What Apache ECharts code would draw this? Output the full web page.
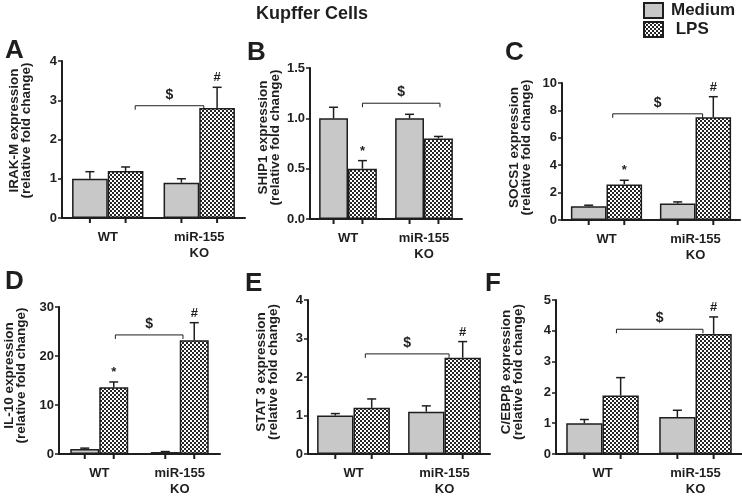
<!DOCTYPE html>
<html><head><meta charset="utf-8">
<script src="https://cdn.jsdelivr.net/npm/echarts@6/dist/echarts.min.js"></script>
<style>html,body{margin:0;padding:0;background:#fff}#c{width:742px;height:497px}</style>
</head><body><div id="c"></div>
<script>
// ---- data ----
const categories = ['WT', 'miR-155\nKO'];
const panelLetters = ['A', 'B', 'C', 'D', 'E', 'F'];
const yNames = ['IRAK-M expression', 'SHIP1 expression', 'SOCS1 expression', 'IL-10 expression', 'STAT 3 expression', 'C/EBPβ expression'];
const yMax = [4, 1.5, 10, 30, 4, 5];
const yStep = [1, 0.5, 2, 10, 1, 1];
const mediumValues = [[1.0, 0.9], [1.0, 1.0], [1.0, 1.2], [1.0, 0.4], [1.0, 1.1], [1.0, 1.2]];
const mediumErrTop = [[1.18, 1.0], [1.11, 1.04], [1.08, 1.32], [1.2, 0.5], [1.05, 1.25], [1.12, 1.42]];
const lpsValues = [[1.2, 2.8], [0.5, 0.8], [2.6, 7.5], [13.6, 23.2], [1.2, 2.5], [1.9, 3.9]];
const lpsErrTop = [[1.3, 3.33], [0.58, 0.82], [2.9, 9.0], [14.7, 26.8], [1.43, 2.92], [2.48, 4.45]];
const bracketLevel = [2.86, 1.15, 7.75, 24.3, 2.6, 4.05];
const wtMarks = ['', '*', '*', '*', '', ''];
const koMarks = ['#', '', '#', '#', '#', '#'];

// ---- layout / style ----
const FONT = 'Liberation Sans, Arial, Helvetica, sans-serif';
const ink = '#1e1e1e';
const medFill = '#c8c8c8';
const pat = document.createElement('canvas'); pat.width = 4; pat.height = 4;
const pctx = pat.getContext('2d');
pctx.fillStyle = '#ffffff'; pctx.fillRect(0, 0, 4, 4);
pctx.fillStyle = '#262626'; pctx.fillRect(0, 0, 2, 2); pctx.fillRect(2, 2, 2, 2);
const lpsFill = { image: pat, repeat: 'repeat' };

const layout = [
  { left: 62, top: 61, width: 183, height: 157, bw: 39, bl: 0.30, br: 0.05, gap: 29, pad: 18, letter: [5, 38] },
  { left: 310, top: 68, width: 152, height: 151, bw: 38, bl: 0.19, br: 0.21, gap: 28, pad: 12, letter: [247, 40] },
  { left: 562, top: 83, width: 178, height: 137, bw: 40, bl: 0.07, br: 0.08, gap: 29, pad: 8, letter: [505, 40] },
  { left: 59, top: 307, width: 161, height: 150, bw: 36, bl: 0.20, br: 0.04, gap: 31, pad: 10, letter: [5, 269] },
  { left: 308, top: 300, width: 182, height: 157, bw: 40, bl: 0.13, br: 0.05, gap: 28, pad: 10, letter: [245, 271] },
  { left: 556, top: 300, width: 186, height: 157, bw: 39, bl: 0.15, br: 0.08, gap: 31, pad: 10, letter: [485, 271] }
];

const grid = [], xAxis = [], yAxis = [], series = [], graphic = [];

graphic.push({ type: 'text', left: 256, top: 5, style: { text: 'Kupffer Cells', font: 'bold 18px ' + FONT, fill: ink } });

layout.forEach((L, i) => {
  grid.push({ left: L.left, top: L.top, width: L.width, height: L.height });
  graphic.push({ type: 'text', left: L.letter[0], top: L.letter[1], style: { text: panelLetters[i], font: 'bold 26px ' + FONT, fill: ink } });
  xAxis.push({
    type: 'category', gridIndex: i, data: categories,
    axisLine: { lineStyle: { color: ink, width: 2 } },
    axisTick: { show: false },
    axisLabel: { color: ink, fontSize: 13, fontWeight: 'bold', margin: 11, lineHeight: 16, fontFamily: FONT }
  });
  yAxis.push({
    type: 'value', gridIndex: i, min: 0, max: yMax[i], interval: yStep[i],
    splitLine: { show: false },
    axisLine: { show: true, lineStyle: { color: ink, width: 2 } },
    axisTick: { show: true, length: 4, lineStyle: { color: ink, width: 1.5 } },
    axisLabel: { color: ink, fontSize: 13, fontWeight: 'bold', margin: 5, fontFamily: FONT,
      formatter: v => (yStep[i] < 1 ? v.toFixed(1) : String(v)) },
    name: yNames[i] + '\n(relative fold change)', nameLocation: 'middle', nameRotate: 90, nameGap: L.gap,
    nameTextStyle: { color: ink, fontSize: 13.5, fontWeight: 'bold', lineHeight: 12.5, fontFamily: FONT, padding: [0, 0, 0, L.pad] }
  });
  series.push({
    type: 'bar', name: 'Medium', xAxisIndex: i, yAxisIndex: i, data: mediumValues[i],
    barWidth: L.bw + '%', barGap: '0%',
    itemStyle: { color: medFill, borderColor: ink, borderWidth: 1.5 }
  });
  series.push({
    type: 'bar', name: 'LPS', xAxisIndex: i, yAxisIndex: i, data: lpsValues[i],
    barWidth: L.bw + '%', barGap: '0%',
    itemStyle: { color: lpsFill, borderColor: ink, borderWidth: 1.5 }
  });
  // error bars + x ticks at bar centres + significance marks
  const errData = [
    [0, mediumValues[i][0], mediumErrTop[i][0], -1],
    [1, mediumValues[i][1], mediumErrTop[i][1], -1],
    [0, lpsValues[i][0], lpsErrTop[i][0], 1],
    [1, lpsValues[i][1], lpsErrTop[i][1], 1]
  ];
  series.push({
    type: 'custom', xAxisIndex: i, yAxisIndex: i, data: errData, z: 5, silent: true,
    renderItem: (params, api) => {
      const idx = api.value(0), v = api.value(1), e = api.value(2), side = api.value(3);
      const band = api.size([1, 0])[0];
      const x = api.coord([idx, 0])[0] + side * band * L.bw / 200;
      const y0 = api.coord([idx, 0])[1];
      const yv = api.coord([idx, v])[1];
      const ye = api.coord([idx, e])[1];
      const st = { stroke: ink, lineWidth: 1.5 };
      const children = [
        { type: 'line', shape: { x1: x, y1: yv, x2: x, y2: ye }, style: st },
        { type: 'line', shape: { x1: x - 4.5, y1: ye, x2: x + 4.5, y2: ye }, style: st },
        { type: 'line', shape: { x1: x, y1: y0, x2: x, y2: y0 + 5 }, style: { stroke: ink, lineWidth: 2 } }
      ];
      const mark = side > 0 ? (idx === 0 ? wtMarks[i] : koMarks[i]) : '';
      if (mark) {
        children.push({ type: 'text', style: { text: mark, x: x, y: ye - 3, textAlign: 'center', textVerticalAlign: 'bottom', font: 'bold 13px ' + FONT, fill: ink } });
      }
      return { type: 'group', children };
    }
  });
  // "$" bracket between WT-LPS and KO-LPS
  series.push({
    type: 'custom', xAxisIndex: i, yAxisIndex: i, data: [[0, bracketLevel[i]]], z: 5, silent: true,
    renderItem: (params, api) => {
      const band = api.size([1, 0])[0];
      const y = api.coord([0, api.value(1)])[1];
      const xl = api.coord([0, 0])[0] + L.bl * band;
      const xr = api.coord([1, 0])[0] + L.br * band;
      return { type: 'group', children: [
        { type: 'polyline', shape: { points: [[xl, y + 4], [xl, y], [xr, y], [xr, y + 4]] }, style: { stroke: ink, lineWidth: 1, fill: null } },
        { type: 'text', style: { text: '$', x: (xl + xr) / 2, y: y - 4, textAlign: 'center', textVerticalAlign: 'bottom', font: 'bold 14px ' + FONT, fill: ink } }
      ] };
    }
  });
});

const chart = echarts.init(document.getElementById('c'));
chart.setOption({
  animation: false,
  textStyle: { fontFamily: FONT },
  legend: {
    data: ['Medium', 'LPS'], left: 643, top: 2, orient: 'vertical', itemGap: 2, padding: 0,
    itemWidth: 19, itemHeight: 15, icon: 'rect', selectedMode: false,
    formatter: n => (n === 'LPS' ? ' LPS' : n),
    textStyle: { fontSize: 17, fontWeight: 'bold', color: ink, fontFamily: FONT, padding: [0, 0, 0, 3] }
  },
  grid, xAxis, yAxis, series, graphic
});
</script>
</body></html>
